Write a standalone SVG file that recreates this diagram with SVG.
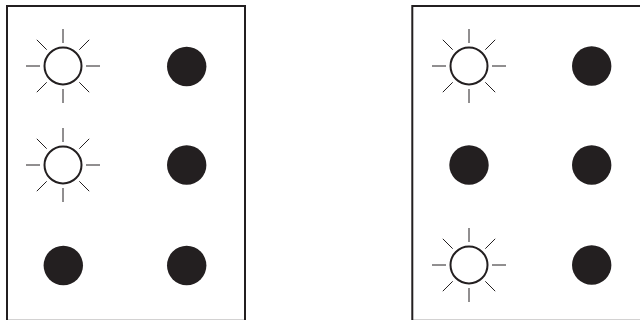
<svg xmlns="http://www.w3.org/2000/svg" xmlns:xlink="http://www.w3.org/1999/xlink" width="640" height="320" viewBox="0 0 640 320">
  <style>
    .panel { fill: #ffffff; stroke: #231f20; stroke-width: 2; }
    .on circle { fill: #ffffff; stroke: #231f20; stroke-width: 2; }
    .on path { stroke: #231f20; stroke-width: 1; fill: none; }
    .off { fill: #231f20; }
  </style>
  <defs>
    <g id="sun" class="on">
      <circle cx="0" cy="0" r="18.5"/>
      <path d="M0,-23V-37M0,23V37M-23,0H-37M23,0H37M16.3,-16.3L26.2,-26.2M-16.3,-16.3L-26.2,-26.2M16.3,16.3L26.2,26.2M-16.3,16.3L-26.2,26.2"/>
    </g>
  </defs>
  <rect width="640" height="320" fill="#ffffff"/>
  <g id="panel-left">
    <rect class="panel" x="7" y="6" width="238" height="314.8"/>
    <g id="left-r1c1"><use xlink:href="#sun" x="63" y="66"/></g>
    <g id="left-r1c2"><circle class="off" cx="186.7" cy="66.5" r="19.7"/></g>
    <g id="left-r2c1"><use xlink:href="#sun" x="63" y="165"/></g>
    <g id="left-r2c2"><circle class="off" cx="186.7" cy="165" r="19.7"/></g>
    <g id="left-r3c1"><circle class="off" cx="63.3" cy="265.5" r="19.7"/></g>
    <g id="left-r3c2"><circle class="off" cx="186.7" cy="265.5" r="19.7"/></g>
  </g>
  <g id="panel-right">
    <rect class="panel" x="412.3" y="6" width="238" height="314.8"/>
    <g id="right-r1c1"><use xlink:href="#sun" x="469" y="66"/></g>
    <g id="right-r1c2"><circle class="off" cx="591.7" cy="66" r="19.7"/></g>
    <g id="right-r2c1"><circle class="off" cx="469" cy="165" r="19.7"/></g>
    <g id="right-r2c2"><circle class="off" cx="591.7" cy="165" r="19.7"/></g>
    <g id="right-r3c1"><use xlink:href="#sun" x="469" y="265"/></g>
    <g id="right-r3c2"><circle class="off" cx="591.7" cy="265" r="19.7"/></g>
  </g>
  <g id="connectors"/>
</svg>
